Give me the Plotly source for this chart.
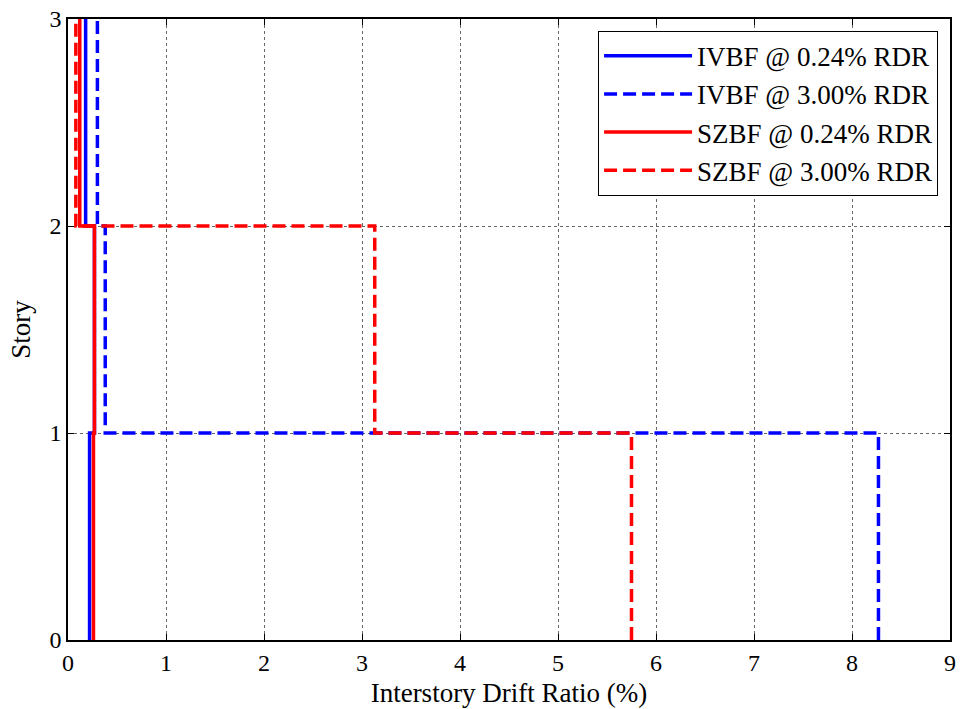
import plotly.graph_objects as go

stories = [0, 1, 2, 3]
story_labels = ["0", "1", "2", "3"]
x_ticks = [0, 1, 2, 3, 4, 5, 6, 7, 8, 9]

# interstory drift ratio (%) per story (story 1, 2, 3)
ivbf_024 = [0.22, 0.27, 0.18]
ivbf_300 = [8.27, 0.38, 0.30]
szbf_024 = [0.26, 0.27, 0.12]
szbf_300 = [5.75, 3.13, 0.08]

series = [
    ("IVBF @ 0.24% RDR", ivbf_024, "#0000FF", "solid"),
    ("IVBF @ 3.00% RDR", ivbf_300, "#0000FF", "13px,6px"),
    ("SZBF @ 0.24% RDR", szbf_024, "#FF0000", "solid"),
    ("SZBF @ 3.00% RDR", szbf_300, "#FF0000", "13px,6px"),
]


def stairs(drifts):
    xs, ys = [], []
    for i, d in enumerate(drifts):
        xs += [d, d]
        ys += [stories[i], stories[i + 1]]
    return xs, ys


fig = go.Figure()
for name, vals, color, dash in series:
    xs, ys = stairs(vals)
    fig.add_trace(go.Scatter(x=xs, y=ys, mode="lines", name=name,
                             line=dict(color=color, width=3.5, dash=dash)))

font_family = "Liberation Serif"
fig.update_layout(
    width=962, height=709,
    margin=dict(l=68, r=6, t=18, b=69),
    paper_bgcolor="white", plot_bgcolor="white",
    font=dict(family=font_family, size=24, color="black"),
    showlegend=True,
    legend=dict(x=0.601, y=0.981, xanchor="left", yanchor="top",
                bgcolor="white", bordercolor="black", borderwidth=1,
                font=dict(family=font_family, size=27, color="black"),
                tracegroupgap=0, itemwidth=88),
    xaxis=dict(range=[0, 9], tickvals=x_ticks, ticktext=[str(v) for v in x_ticks],
               tickfont=dict(size=24),
               showgrid=True, gridcolor="#666666", griddash="dot", gridwidth=1,
               zeroline=False, showline=True, linecolor="black", linewidth=1.5,
               mirror="ticks", ticks="inside", ticklen=6, tickcolor="black",
               title=dict(text="Interstory Drift Ratio (%)", font=dict(size=27), standoff=9)),
    yaxis=dict(range=[0, 3], tickvals=stories, ticktext=story_labels,
               tickfont=dict(size=24),
               showgrid=True, gridcolor="#666666", griddash="dot", gridwidth=1,
               zeroline=False, showline=True, linecolor="black", linewidth=1.5,
               mirror="ticks", ticks="inside", ticklen=6, tickcolor="black",
               title=dict(text="Story", font=dict(size=27), standoff=11)),
)

fig.write_html("out.html")
